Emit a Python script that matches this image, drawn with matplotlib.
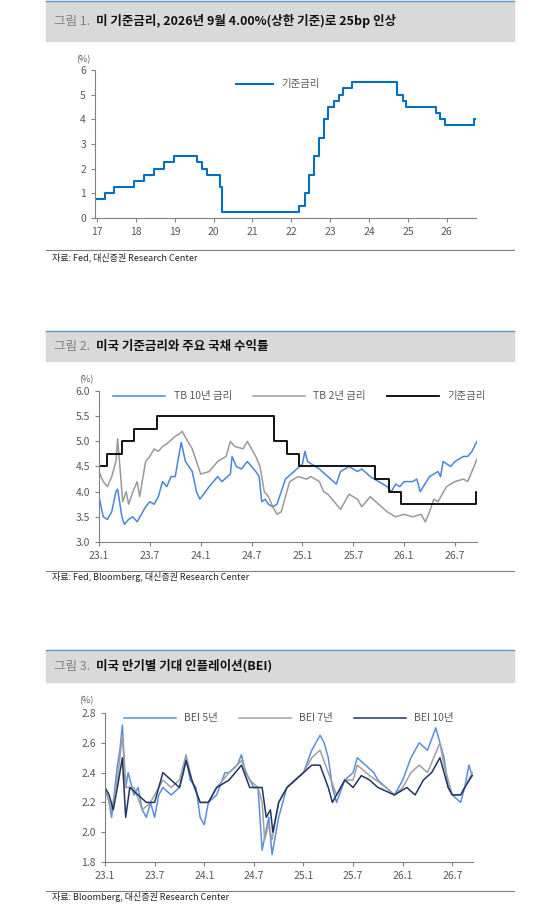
import numpy as np
import matplotlib.pyplot as plt
from matplotlib.patches import Rectangle
from matplotlib.lines import Line2D

plt.rcParams['font.family'] = ['Noto Sans CJK KR', 'DejaVu Sans']

W, H = 548, 905

# ---- data: panel 1 (fed funds upper bound, decimal year - 2000)
fed_x = [17.0, 17.2, 17.45, 17.96, 18.22, 18.46, 18.72, 18.97, 19.58, 19.71, 19.83,
         20.17, 20.21, 22.21, 22.34, 22.46, 22.58, 22.72, 22.84, 22.95,
         23.09, 23.22, 23.34, 23.57, 24.71, 24.86, 24.96, 25.71, 25.83, 25.96, 26.7, 26.72]
fed_y = [0.75, 1.0, 1.25, 1.5, 1.75, 2.0, 2.25, 2.5, 2.25, 2.0, 1.75,
         1.25, 0.25, 0.5, 1.0, 1.75, 2.5, 3.25, 4.0, 4.5,
         4.75, 5.0, 5.25, 5.5, 5.0, 4.75, 4.5, 4.25, 4.0, 3.75, 4.0, 4.0]

# ---- panel 2 (months since 2023-01)
tb10_x = [0, 0.5, 1, 1.5, 2.0, 2.2, 2.7, 3.0, 3.5, 4, 4.5, 5.5, 6, 6.5, 7, 7.5, 8, 8.5, 9, 9.3, 9.7,
          10.2, 11, 11.5, 11.9, 13, 14, 14.5, 15.5, 15.7, 16.2, 16.8, 17.5, 18.5, 18.9, 19.2, 19.6, 20, 20.5,
          21, 21.5, 22, 23, 24, 24.3, 24.6, 26, 27, 28, 28.5, 29.5, 30.5, 31, 32, 33, 34, 34.5, 35, 35.5,
          36, 37, 37.5, 37.9, 39, 40, 40.3, 40.6, 41.5, 42, 43, 43.5, 44, 44.6]
tb10_y = [3.9, 3.5, 3.45, 3.6, 4.0, 4.05, 3.5, 3.35, 3.45, 3.5, 3.4, 3.7, 3.8, 3.75, 3.9, 4.2, 4.1, 4.3, 4.3, 4.6, 4.98,
          4.6, 4.4, 4.0, 3.85, 4.1, 4.3, 4.2, 4.35, 4.7, 4.5, 4.45, 4.6, 4.4, 4.3, 3.8, 3.85, 3.75, 3.7,
          3.75, 4.0, 4.25, 4.4, 4.55, 4.8, 4.6, 4.45, 4.3, 4.15, 4.4, 4.5, 4.4, 4.45, 4.3, 4.2, 4.1, 4.0, 4.15, 4.1,
          4.2, 4.2, 4.25, 4.0, 4.3, 4.4, 4.3, 4.6, 4.5, 4.6, 4.7, 4.7, 4.8, 5.0]
tb2_x = [0, 0.5, 1, 1.5, 2, 2.2, 2.8, 3.2, 3.5, 4, 4.5, 4.8, 5.2, 5.5, 6, 6.5, 7, 7.5, 8, 9, 9.5, 9.8,
         10.3, 11, 11.5, 12, 13, 14, 15, 15.5, 16, 17, 17.5, 18, 18.5, 19, 19.5, 20, 20.5, 21, 21.5, 22,
         22.5, 23.5, 24.5, 25, 26, 26.5, 27, 28, 28.5, 29.5, 30.5, 31, 32, 33, 34, 35, 36, 37, 38, 38.5,
         39, 39.5, 40, 40.5, 41, 42, 43, 43.5, 44, 44.6]
tb2_y = [4.4, 4.2, 4.1, 4.3, 4.6, 5.05, 3.8, 4.0, 3.75, 4.0, 4.2, 3.9, 4.3, 4.6, 4.7, 4.85, 4.8, 4.9, 4.95, 5.1, 5.15, 5.2,
         5.05, 4.85, 4.6, 4.35, 4.4, 4.6, 4.7, 5.0, 4.9, 4.85, 5.0, 4.85, 4.7, 4.5, 4.0, 3.9, 3.7, 3.55, 3.6, 3.9,
         4.2, 4.3, 4.25, 4.3, 4.2, 4.0, 3.95, 3.75, 3.65, 3.95, 3.85, 3.7, 3.9, 3.75, 3.6, 3.5, 3.55, 3.5, 3.55, 3.4,
         3.6, 3.85, 3.8, 3.95, 4.1, 4.2, 4.25, 4.2, 4.4, 4.65]
ff_x = [0, 1.0, 2.7, 4.1, 6.9, 20.6, 22.2, 23.6, 32.6, 34.2, 35.6, 44.5, 44.6]
ff_y = [4.5, 4.75, 5.0, 5.25, 5.5, 5.0, 4.75, 4.5, 4.25, 4.0, 3.75, 4.0, 4.0]

# ---- panel 3 BEI
bei5_x = [0, 0.5, 0.8, 1.2, 1.5, 1.8, 2.1, 2.5, 2.8, 3.5, 4, 4.5, 5, 5.5, 6, 6.5, 7, 8, 9, 9.5, 9.8,
          10.3, 11, 11.5, 12, 12.5, 13.5, 14.5, 15, 16, 16.5, 17, 18, 18.5, 19.0, 19.8, 20.2, 21, 22, 23, 24,
          25, 26, 26.5, 27, 27.5, 28, 29, 30, 30.5, 31.5, 32.5, 33, 34, 35, 36, 37, 38, 39, 40, 40.5,
          41, 41.5, 42, 43, 43.5, 44, 44.4]
bei5_y = [2.3, 2.2, 2.1, 2.3, 2.45, 2.55, 2.72, 2.3, 2.4, 2.25, 2.3, 2.15, 2.1, 2.2, 2.1, 2.25, 2.3, 2.25, 2.3, 2.4, 2.5,
          2.35, 2.3, 2.1, 2.05, 2.2, 2.25, 2.4, 2.4, 2.45, 2.52, 2.4, 2.3, 2.3, 1.88, 2.1, 1.85, 2.1, 2.3, 2.35, 2.4,
          2.55, 2.65, 2.6, 2.5, 2.3, 2.2, 2.35, 2.4, 2.5, 2.45, 2.4, 2.35, 2.3, 2.25, 2.35, 2.5, 2.6, 2.55, 2.7, 2.6,
          2.5, 2.3, 2.25, 2.2, 2.3, 2.45, 2.38]
bei7_x = [0, 0.5, 0.8, 1.5, 2.1, 2.5, 3.5, 4.5, 5.5, 6.5, 7, 8, 9, 9.8, 10.5, 11.5, 12.5, 13.5, 15, 16.5,
          17.5, 18.5, 19, 19.3, 19.8, 20.2, 21, 22, 23, 24, 25, 26, 27, 28, 29, 30, 30.5, 32, 34, 35, 36,
          37, 38, 39, 40.5, 41, 42, 43, 43.5, 44.4]
bei7_y = [2.3, 2.2, 2.15, 2.35, 2.65, 2.3, 2.3, 2.15, 2.2, 2.3, 2.35, 2.3, 2.35, 2.52, 2.35, 2.2, 2.2, 2.3, 2.4, 2.48,
          2.35, 2.3, 2.2, 1.95, 2.05, 1.95, 2.2, 2.3, 2.35, 2.4, 2.5, 2.55, 2.4, 2.25, 2.35, 2.35, 2.45, 2.38, 2.3, 2.25, 2.3,
          2.4, 2.45, 2.4, 2.6, 2.45, 2.25, 2.25, 2.3, 2.4]
bei10_x = [0, 0.5, 1, 1.5, 2.1, 2.5, 3, 4, 5, 6, 7, 8, 9, 9.8, 10.5, 11.5, 12.5, 13.5, 15, 16.5, 17.5,
           18.5, 19, 19.5, 20, 20.3, 21, 22, 23, 24, 25, 26, 27, 27.5, 29, 30, 31, 32, 33, 35, 36.5, 37.5,
           38.5, 39.5, 40.5, 41.5, 42, 43, 43.5, 44.4]
bei10_y = [2.3, 2.25, 2.15, 2.3, 2.5, 2.1, 2.3, 2.25, 2.2, 2.2, 2.4, 2.35, 2.3, 2.48, 2.35, 2.2, 2.2, 2.3, 2.35, 2.45, 2.3,
           2.3, 2.3, 2.1, 2.15, 2.0, 2.2, 2.3, 2.35, 2.4, 2.45, 2.45, 2.3, 2.2, 2.35, 2.3, 2.38, 2.35, 2.3, 2.25, 2.3, 2.25,
           2.35, 2.4, 2.5, 2.3, 2.25, 2.25, 2.3, 2.38]

month_ticks = [0, 6, 12, 18, 24, 30, 36, 42]
month_labels = ['23.1', '23.7', '24.1', '24.7', '25.1', '25.7', '26.1', '26.7']

fig = plt.figure(figsize=(W / 100, H / 100), dpi=100)
GRAY = '#595959'


def px_axes(left, top, right, bottom):
    ax = fig.add_axes([left / W, 1 - bottom / H, (right - left) / W, (bottom - top) / H])
    for s in ['top', 'right']:
        ax.spines[s].set_visible(False)
    for s in ['left', 'bottom']:
        ax.spines[s].set_color('#808080')
        ax.spines[s].set_linewidth(0.8)
    ax.tick_params(colors='#808080', labelcolor=GRAY, labelsize=7.5, length=3, width=0.8)
    return ax


def header(top, bottom, num, text, src_y, line_y):
    fig.patches.append(Rectangle((46 / W, 1 - bottom / H), 468 / W, (bottom - top) / H,
                                 transform=fig.transFigure, color='#D9D9D9', zorder=0))
    fig.lines.append(Line2D([46 / W, 514 / W], [1 - top / H] * 2, transform=fig.transFigure,
                            color='#5B9BD5', lw=1))
    t = fig.text(54 / W, 1 - (top + bottom) / 2 / H, num, color='#7F7F7F', fontsize=9, va='center')
    fig.canvas.draw()
    bb = t.get_window_extent()
    fig.text(bb.x1 / W + 6 / W, 1 - (top + bottom) / 2 / H, text, fontsize=9, fontweight='bold',
             va='center', color='#111111')
    fig.lines.append(Line2D([46 / W, 514 / W], [1 - line_y / H] * 2, transform=fig.transFigure,
                            color='#808080', lw=0.8))
    fig.text(52 / W, 1 - src_y / H, src_text[num], fontsize=6.5, va='center', color='#222222')


def pct_label(x_px, y_px):
    fig.text(x_px / W, 1 - y_px / H, '(%)', fontsize=6.5, color=GRAY, ha='center', va='center')


src_text = {'그림 1.': '자료: Fed, 대신증권 Research Center',
            '그림 2.': '자료: Fed, Bloomberg, 대신증권 Research Center',
            '그림 3.': '자료: Bloomberg, 대신증권 Research Center'}

# ---- panel 1
header(1, 41, '그림 1.', '미 기준금리, 2026년 9월 4.00%(상한 기준)로 25bp 인상', 257, 250)
ax1 = px_axes(95, 70, 476, 218)
ax1.step(fed_x, fed_y, where='post', color='#0070C0', lw=1.5, label='기준금리')
ax1.set_xlim(16.95, 26.75)
ax1.set_ylim(0, 6)
ax1.set_xticks(range(17, 27))
ax1.set_yticks(range(0, 7))
pct_label(83, 60)
ax1.legend(loc='upper center', bbox_to_anchor=(0.48, 1.0), frameon=False, fontsize=7.5,
           labelcolor=GRAY, handlelength=3.5)

# ---- panel 2
header(331, 361, '그림 2.', '미국 기준금리와 주요 국채 수익률', 577, 571)
ax2 = px_axes(99, 391, 477, 542)
ax2.plot(tb10_x, tb10_y, color='#4A86D8', lw=1.1, label='TB 10년 금리')
ax2.plot(tb2_x, tb2_y, color='#9A9A9A', lw=1.1, label='TB 2년 금리')
ax2.step(ff_x, ff_y, where='post', color='black', lw=1.3, label='기준금리')
ax2.set_xlim(0, 44.6)
ax2.set_ylim(3.0, 6.0)
ax2.set_xticks(month_ticks, month_labels)
ax2.set_yticks(np.arange(3.0, 6.01, 0.5))
ax2.yaxis.set_major_formatter('{x:.1f}')
pct_label(86, 380)
ax2.legend(loc='upper center', bbox_to_anchor=(0.53, 1.06), ncol=3, frameon=False, fontsize=7.5,
           labelcolor=GRAY, handlelength=5, columnspacing=2)

# ---- panel 3
header(650, 682, '그림 3.', '미국 만기별 기대 인플레이션(BEI)', 897, 891)
ax3 = px_axes(105, 713, 473, 862)
ax3.plot(bei5_x, bei5_y, color='#5B8FDB', lw=1.1, label='BEI 5년')
ax3.plot(bei7_x, bei7_y, color='#A0A0A0', lw=1.1, label='BEI 7년')
ax3.plot(bei10_x, bei10_y, color='#1F3560', lw=1.1, label='BEI 10년')
ax3.set_xlim(0, 44.5)
ax3.set_ylim(1.8, 2.8)
ax3.set_xticks(month_ticks, month_labels)
ax3.set_yticks(np.arange(1.8, 2.81, 0.2))
ax3.yaxis.set_major_formatter('{x:.1f}')
pct_label(86, 701)
ax3.legend(loc='upper center', bbox_to_anchor=(0.5, 1.06), ncol=3, frameon=False, fontsize=7.5,
           labelcolor=GRAY, handlelength=5, columnspacing=2)

fig.savefig('out.png', dpi=100, facecolor='white')
